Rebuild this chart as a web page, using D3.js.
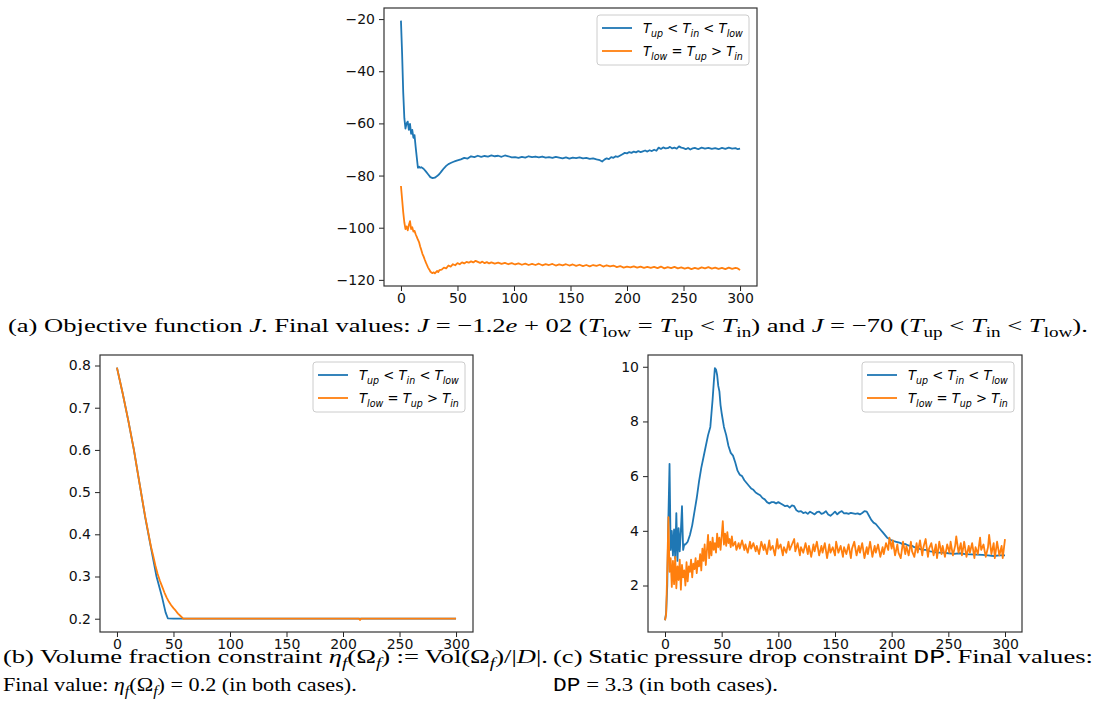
<!DOCTYPE html>
<html><head><meta charset="utf-8">
<script src="https://cdn.jsdelivr.net/npm/d3@7"></script>
<style>body{margin:0;background:#fff;} svg{display:block}</style>
</head><body><svg id="c" width="1098" height="711"></svg>
<script>
// ---------- DATA (iteration, value) ----------
const iterTicks = [0, 50, 100, 150, 200, 250, 300];
const objTicks = [-120, -100, -80, -60, -40, -20];
const volTicks = [0.2, 0.3, 0.4, 0.5, 0.6, 0.7, 0.8];
const dpTicks = [2, 4, 6, 8, 10];
const seriesNames = ["blue", "orange"];

const objBlue = [[0,-20.6],[1,-33],[2,-48],[3,-58],[4,-62],[5,-60],[6,-59.3],[7,-62.5],[8,-60.2],[9,-64],[10,-62.5],[11,-65.5],[12,-64.5],[13,-69],[14,-73],[15,-77],[16,-76.6],[17,-77],[18,-76.8],[20,-77.4],[22,-78.4],[24,-79.5],[26,-80.6],[28,-81],[30,-80.8],[32,-80.2],[34,-79.4],[36,-78.3],[38,-77.2],[40,-76.3],[42,-75.6],[44,-75.2],[46,-74.8],[48,-74.5],[50,-74.2],[53,-73.8],[56,-73.2],[59,-73.5],[62,-72.6],[65,-72.9],[68,-72.4],[71,-72.8],[74,-72.5],[77,-72.7],[80,-72.3],[83,-72.6],[86,-72.4],[89,-72.8],[92,-72.3],[95,-72.6],[98,-73],[101,-72.9],[104,-73.2],[107,-72.8],[110,-73.1],[113,-72.6],[116,-72.9],[119,-72.7],[122,-73.0],[125,-72.7],[128,-73.1],[131,-72.9],[134,-73.2],[137,-72.8],[140,-73.1],[143,-73.4],[146,-73.0],[149,-73.5],[152,-73.1],[155,-73.3],[158,-73.0],[161,-73.4],[164,-73.2],[167,-73.6],[170,-73.4],[173,-73.8],[176,-74.1],[178,-74.6],[180,-73.9],[182,-73.4],[184,-73.7],[186,-72.9],[188,-73.2],[190,-72.6],[192,-72.8],[194,-72.3],[196,-71.8],[198,-71.3],[200,-71.5],[202,-71.0],[204,-71.3],[206,-70.8],[208,-71.1],[210,-70.6],[212,-71.0],[214,-70.7],[216,-70.4],[218,-70.8],[220,-70.3],[222,-70.6],[224,-70.1],[226,-70.5],[228,-69.3],[230,-69.8],[232,-69.2],[234,-69.6],[236,-69.5],[238,-69.0],[240,-69.6],[242,-69.3],[244,-69.7],[246,-68.8],[248,-69.3],[250,-69.5],[252,-69.9],[254,-69.4],[256,-70.0],[258,-69.6],[260,-69.4],[263,-69.9],[266,-69.3],[269,-69.7],[272,-69.4],[275,-69.8],[278,-69.5],[281,-69.9],[284,-69.4],[287,-69.8],[290,-69.3],[293,-69.7],[296,-69.5],[298,-69.9],[300,-69.7]];

const objOrange = [[0,-84],[1,-89],[2,-94],[3,-98],[4,-100.5],[5,-99.5],[6,-101],[7,-99],[8,-97.5],[9,-100.5],[10,-99.8],[11,-101.5],[12,-101.2],[13,-102.5],[14,-103.5],[15,-104.6],[16,-105.5],[17,-107.2],[18,-108.5],[19,-110],[20,-111],[21,-112.2],[22,-113.3],[23,-114.3],[24,-115.3],[25,-116],[26,-116.8],[27,-117.2],[28,-117.4],[29,-117.1],[30,-117.5],[31,-117],[32,-116.6],[33,-117],[34,-116.3],[36,-116.1],[38,-115.3],[40,-115.6],[42,-114.5],[44,-114.9],[46,-114.0],[48,-114.4],[50,-113.6],[52,-114.0],[54,-113.3],[56,-113.7],[58,-113.1],[60,-113.4],[62,-112.9],[64,-113.3],[66,-112.7],[68,-113.1],[70,-113.5],[72,-113.0],[74,-113.6],[76,-113.2],[78,-113.7],[80,-113.3],[83,-113.8],[86,-113.4],[89,-113.9],[92,-113.5],[95,-114.0],[98,-113.6],[101,-114.1],[104,-113.7],[107,-114.2],[110,-113.8],[113,-114.3],[116,-113.9],[119,-114.3],[122,-113.8],[125,-114.4],[128,-114.0],[131,-114.3],[134,-113.9],[137,-114.5],[140,-114.1],[143,-114.4],[146,-114.0],[149,-114.5],[152,-114.1],[155,-114.6],[158,-114.2],[161,-114.7],[164,-114.3],[167,-114.8],[170,-114.3],[173,-114.6],[176,-114.2],[179,-114.9],[182,-114.4],[185,-114.8],[188,-114.5],[191,-115.1],[194,-114.7],[197,-115.3],[200,-114.9],[203,-115.2],[206,-114.8],[209,-115.3],[212,-114.9],[215,-115.4],[218,-115.0],[221,-115.4],[224,-115.0],[227,-115.5],[230,-114.9],[233,-115.6],[236,-115.1],[239,-115.5],[242,-115.0],[245,-115.6],[248,-115.2],[251,-115.7],[254,-115.3],[257,-115.9],[260,-115.4],[263,-115.8],[266,-115.2],[269,-115.6],[272,-115.1],[275,-115.7],[278,-115.3],[281,-115.8],[284,-115.4],[287,-115.9],[290,-115.3],[293,-115.8],[296,-115.4],[298,-115.6],[300,-116.2]];

const volBlue = [[0,0.795],[5,0.735],[10,0.67],[15,0.6],[20,0.52],[25,0.44],[30,0.37],[35,0.3],[40,0.25],[43,0.215],[45,0.201],[50,0.2],[100,0.2],[200,0.2],[300,0.2]];
const volOrange = [[0,0.795],[5,0.735],[10,0.67],[15,0.6],[20,0.52],[25,0.442],[30,0.372],[32,0.35],[34,0.326],[36,0.306],[38,0.29],[40,0.276],[42,0.262],[44,0.25],[46,0.24],[48,0.232],[50,0.225],[52,0.219],[54,0.212],[56,0.207],[58,0.202],[59,0.2],[100,0.2],[214,0.2],[215,0.197],[216,0.2],[300,0.2]];

const dpBlue = [[0,0.73],[1,1.0],[2,2.0],[3,4.5],[4,6.45],[5,3.3],[6,4.0],[7,3.1],[8,4.05],[9,3.0],[10,4.65],[11,2.9],[12,4.1],[13,3.25],[14,4.0],[15,4.9],[16,3.3],[17,3.5],[18,3.5],[19,3.55],[20,3.6],[22,3.85],[24,4.2],[26,4.7],[28,5.2],[30,5.8],[32,6.3],[34,6.7],[36,7.1],[38,7.5],[40,7.8],[41,8.3],[42,8.8],[43,9.4],[44,9.95],[45,9.9],[46,9.7],[47,9.3],[48,9.1],[49,8.6],[50,8.3],[52,7.8],[54,7.5],[56,7.1],[58,6.85],[60,6.75],[62,6.5],[64,6.2],[66,6.05],[68,6.0],[70,5.85],[72,5.75],[74,5.65],[76,5.55],[78,5.5],[80,5.4],[82,5.35],[84,5.3],[86,5.2],[88,5.15],[90,5.05],[92,5.0],[94,5.05],[96,5.05],[98,5.0],[100,5.05],[102,5.0],[104,4.95],[106,4.9],[108,4.92],[110,4.85],[112,4.93],[114,4.9],[116,4.75],[118,4.7],[120,4.72],[122,4.65],[124,4.68],[126,4.62],[128,4.7],[130,4.65],[132,4.6],[134,4.68],[136,4.7],[138,4.62],[140,4.65],[142,4.72],[144,4.6],[146,4.55],[148,4.62],[150,4.7],[152,4.6],[154,4.68],[156,4.72],[158,4.64],[160,4.65],[162,4.62],[164,4.66],[166,4.64],[168,4.62],[170,4.64],[172,4.6],[174,4.65],[176,4.72],[178,4.7],[180,4.55],[182,4.4],[184,4.3],[186,4.25],[188,4.15],[190,4.05],[192,3.95],[194,3.85],[196,3.75],[198,3.7],[200,3.65],[202,3.62],[204,3.6],[206,3.58],[208,3.55],[210,3.5],[212,3.52],[214,3.48],[216,3.45],[218,3.45],[220,3.4],[222,3.38],[224,3.35],[226,3.32],[228,3.3],[230,3.3],[232,3.28],[234,3.25],[236,3.24],[238,3.22],[240,3.2],[245,3.2],[250,3.18],[255,3.16],[260,3.18],[265,3.15],[270,3.14],[275,3.13],[280,3.12],[285,3.1],[290,3.08],[295,3.1],[300,3.1]];

const dpOrange = [[0,0.73],[1,0.95],[2,2.6],[3,4.5],[4,2.5],[5,3.0],[6,1.95],[7,2.9],[8,2.05],[9,3.05],[10,1.9],[11,2.7],[12,2.2],[13,2.95],[14,1.85],[15,2.75],[16,2.3],[17,2.55],[18,2.0],[19,2.85],[20,2.15],[21,2.7],[22,2.5],[23,2.95],[24,2.3],[25,2.8],[26,2.6],[27,3.0],[28,2.45],[29,2.9],[30,2.7],[31,3.15],[32,2.55],[33,3.35],[34,2.9],[35,3.5],[36,2.75],[37,3.3],[38,3.85],[39,3.0],[40,3.6],[41,3.1],[42,3.75],[43,3.3],[44,3.55],[45,3.2],[46,3.9],[47,3.4],[48,3.75],[49,3.3],[50,3.8],[51,4.35],[52,3.5],[53,3.9],[54,3.45],[55,3.95],[56,3.55],[57,3.7],[58,3.4],[59,3.8],[60,3.45],[62,3.6],[63,3.3],[65,3.55],[66,3.35],[68,3.65],[70,3.3],[71,3.5],[73,3.2],[75,3.6],[76,3.35],[78,3.55],[80,3.25],[81,3.45],[83,3.15],[85,3.6],[87,3.3],[88,3.5],[90,3.15],[92,3.65],[93,3.3],[95,3.45],[97,3.1],[99,3.7],[100,3.35],[102,3.5],[104,3.1],[105,3.4],[107,3.2],[109,3.6],[110,3.3],[112,3.5],[114,3.7],[115,3.25],[117,3.55],[119,3.1],[120,3.4],[122,3.2],[124,3.55],[126,3.15],[127,3.45],[129,3.05],[131,3.5],[132,3.25],[134,3.6],[136,3.1],[138,3.45],[139,3.2],[141,3.55],[143,3.0],[145,3.5],[146,3.2],[148,3.4],[150,3.1],[151,3.6],[153,3.2],[155,3.45],[157,3.05],[158,3.4],[160,3.15],[162,3.5],[164,3.0],[165,3.35],[167,3.6],[169,3.1],[171,3.45],[172,3.2],[174,3.55],[176,3.0],[178,3.4],[179,3.15],[181,3.6],[183,3.05],[185,3.45],[186,3.2],[188,3.5],[190,3.05],[192,3.4],[193,3.15],[195,3.55],[197,3.3],[198,3.75],[200,3.35],[201,3.65],[203,3.1],[205,3.5],[206,3.2],[208,3.0],[210,3.6],[212,3.15],[213,3.45],[215,3.1],[217,3.6],[218,3.25],[220,3.05],[222,3.55],[223,3.2],[225,3.65],[227,3.1],[228,3.4],[230,3.7],[232,3.05],[233,3.35],[235,3.55],[237,3.1],[239,3.5],[240,3.0],[242,3.6],[244,3.15],[245,3.45],[247,3.05],[249,3.5],[251,3.2],[252,3.6],[254,3.1],[256,3.45],[257,3.8],[259,3.2],[261,3.55],[262,3.1],[264,3.6],[266,3.05],[268,3.45],[269,3.2],[271,3.55],[273,3.0],[274,3.4],[276,3.15],[278,3.75],[279,3.3],[281,3.5],[283,3.05],[285,3.4],[286,3.85],[288,3.15],[290,3.55],[291,3.0],[293,3.6],[295,3.1],[297,3.45],[298,3.0],[300,3.7]];

// ---------- DRAWING ----------
const svg = d3.select('#c');
const COLORS = {blue: '#1f77b4', orange: '#ff7f0e'};
const TICK_FONT = 'DejaVu Sans, sans-serif';
const SERIF = 'Liberation Serif, serif';

const legendLabels = [
  [['T',{i:1}],['up',{i:1,sub:1}],[' < ',{}],['T',{i:1}],['in',{i:1,sub:1}],[' < ',{}],['T',{i:1}],['low',{i:1,sub:1}]],
  [['T',{i:1}],['low',{i:1,sub:1}],[' = ',{}],['T',{i:1}],['up',{i:1,sub:1}],[' > ',{}],['T',{i:1}],['in',{i:1,sub:1}]]
];

function rich(parent, x, y, parts, size, family) {
  const t = parent.append('text').attr('x', x).attr('y', y)
    .attr('font-family', family).attr('font-size', size).attr('fill', '#000');
  let shift = 0;
  parts.forEach(([txt, f]) => {
    const ts = t.append('tspan').text(txt);
    if (f.i) ts.attr('font-style', 'italic');
    if (f.m) ts.attr('font-family', 'Liberation Mono, DejaVu Sans Mono, monospace');
    const want = f.sub ? size * 0.28 : 0;
    if (want !== shift) { ts.attr('dy', want - shift); shift = want; }
    if (f.sub) ts.attr('font-size', size * 0.72);
  });
  t.style('white-space', 'pre');
  return t;
}
function scaleX(t, x, s) {
  t.attr('transform', `translate(${x},0) scale(${s},1) translate(${-x},0)`);
}
function fitWidth(t, x, targetW) {
  const s = targetW / t.node().getComputedTextLength();
  scaleX(t, x, s);
  return s;
}
// justify: glyph scale s, stretch inter-word spaces to reach targetW
function justify(t, x, s, targetW) {
  const w = t.node().getComputedTextLength();
  const nSp = (t.text().match(/ /g) || []).length;
  const extra = (targetW / s - w) / nSp;
  t.attr('word-spacing', extra);
  scaleX(t, x, s);
}

function panel(o) {
  const x = d3.scaleLinear().domain(o.xDomain).range([o.box.l, o.box.r]);
  const y = d3.scaleLinear().domain(o.yDomain).range([o.box.b, o.box.t]);
  const g = svg.append('g');
  const line = d3.line().x(d => x(d[0])).y(d => y(d[1]));
  o.series.forEach((s, k) => {
    g.append('path').datum(s).attr('d', line).attr('fill', 'none')
      .attr('stroke', COLORS[seriesNames[k]]).attr('stroke-width', 1.8)
      .attr('stroke-linejoin', 'round').attr('stroke-linecap', 'butt');
  });
  const xa = g.append('g').attr('transform', `translate(0,${o.box.b})`)
    .call(d3.axisBottom(x).tickValues(iterTicks).tickSize(5).tickPadding(2).tickFormat(d3.format('d')));
  const ya = g.append('g').attr('transform', `translate(${o.box.l},0)`)
    .call(d3.axisLeft(y).tickValues(o.yTicks).tickSize(5).tickPadding(4).tickFormat(d3.format(o.yFmt)));
  [xa, ya].forEach(a => {
    a.select('.domain').remove();
    a.selectAll('.tick line').attr('stroke', '#222').attr('stroke-width', 1);
    a.selectAll('.tick text').attr('font-family', TICK_FONT).attr('font-size', 14).attr('fill', '#111');
  });
  g.append('rect').attr('x', o.box.l).attr('y', o.box.t)
    .attr('width', o.box.r - o.box.l).attr('height', o.box.b - o.box.t)
    .attr('fill', 'none').attr('stroke', '#333').attr('stroke-width', 1.2);
  // legend
  const lw = 152, lh = 50;
  const lx = o.box.r - 8 - lw, ly = o.box.t + 7;
  const lg = g.append('g');
  lg.append('rect').attr('x', lx).attr('y', ly).attr('width', lw).attr('height', lh)
    .attr('rx', 3).attr('fill', '#fff').attr('fill-opacity', 0.8).attr('stroke', '#ccc');
  seriesNames.forEach((n, k) => {
    const yy = ly + 13 + k * 23;
    lg.append('line').attr('x1', lx + 5).attr('x2', lx + 35).attr('y1', yy).attr('y2', yy)
      .attr('stroke', COLORS[n]).attr('stroke-width', 1.8);
    const t = rich(lg, lx + 46, yy + 5, legendLabels[k], 14, TICK_FONT);
    fitWidth(t, lx + 46, 100);
  });
}

panel({box: {l: 384, r: 757, t: 8, b: 286}, xDomain: [-15, 315], yDomain: [-122.35, -15.75],
  yTicks: objTicks, yFmt: 'd', series: [objBlue, objOrange]});
panel({box: {l: 100, r: 473, t: 355, b: 632}, xDomain: [-15, 315], yDomain: [0.1685, 0.8249],
  yTicks: volTicks, yFmt: '.1f', series: [volBlue, volOrange]});
panel({box: {l: 648, r: 1022, t: 355, b: 632}, xDomain: [-15, 315], yDomain: [0.3, 10.43],
  yTicks: dpTicks, yFmt: 'd', series: [dpBlue, dpOrange]});

// ---------- CAPTIONS ----------
const I = {i:1}, N = {}, S = {sub:1}, SI = {sub:1, i:1}, M = {m:1};
const capA = [['(a) Objective function ',N],['J',I],['. Final values: ',N],['J',I],[' = −1.2',N],['e',I],[' + 02 (',N],
  ['T',I],['low',S],[' = ',N],['T',I],['up',S],[' < ',N],['T',I],['in',S],[') and ',N],['J',I],[' = −70 (',N],
  ['T',I],['up',S],[' < ',N],['T',I],['in',S],[' < ',N],['T',I],['low',S],[').',N]];
const capB1 = [['(b) Volume fraction constraint ',N],['η',I],['f',SI],['(Ω',N],['f',SI],[') := Vol(Ω',N],['f',SI],[')/|',N],['D',I],['|.',N]];
const capB2 = [['Final value: ',N],['η',I],['f',SI],['(Ω',N],['f',SI],[') = 0.2 (in both cases).',N]];
const capC1 = [['(c) Static pressure drop constraint ',N],['DP',M],['. Final values:',N]];
const capC2 = [['DP',M],[' = 3.3 (in both cases).',N]];

const CAP = 19.5;
const tA = rich(svg, 8, 332, capA, CAP, SERIF);
const sA = fitWidth(tA, 8, 1080);
const tB1 = rich(svg, 3, 663, capB1, CAP, SERIF);
justify(tB1, 3, sA, 545);
const tB2 = rich(svg, 3, 691, capB2, CAP, SERIF);
fitWidth(tB2, 3, 354);
const tC1 = rich(svg, 553, 663, capC1, CAP, SERIF);
justify(tC1, 553, sA, 540);
const tC2 = rich(svg, 553, 691, capC2, CAP, SERIF);
fitWidth(tC2, 553, 225);
</script></body></html>
